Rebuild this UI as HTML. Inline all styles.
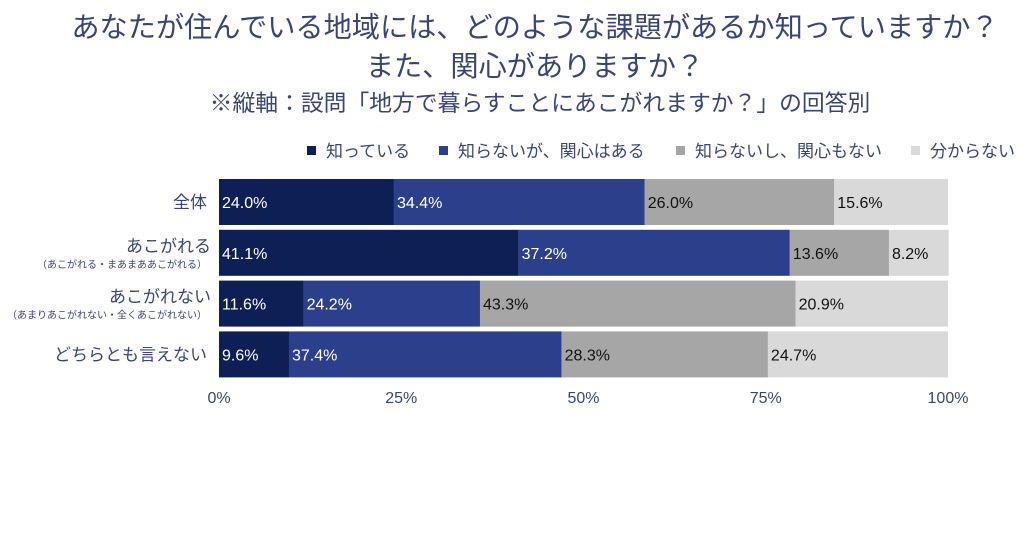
<!DOCTYPE html>
<html><head><meta charset="utf-8"><style>
body{margin:0;width:1024px;height:536px;background:#fff;overflow:hidden;font-family:"Liberation Sans","Noto Sans CJK JP",sans-serif;}
.t{position:absolute;left:0;width:1024px;text-align:center;color:#3a4577;}
</style></head><body>
<div class="t" style="top:5px;font-size:28.2px;left:23px;">あなたが住んでいる地域には、どのような課題があるか知っていますか？</div>
<div class="t" style="top:44px;font-size:28.2px;left:23px;">また、関心がありますか？</div>
<div class="t" style="top:85px;font-size:22.8px;left:28px;">※縦軸：設問「地方で暮らすことにあこがれますか？」の回答別</div>
<svg id="c" width="1024" height="536" style="position:absolute;left:0;top:0"></svg>
<script>
const categories=["全体","あこがれる","あこがれない","どちらとも言えない"];
const subLabels=["","（あこがれる・まあまああこがれる）","（あまりあこがれない・全くあこがれない）",""];
const seriesNames=["知っている","知らないが、関心はある","知らないし、関心もない","分からない"];
const s1=[24.0,41.1,11.6,9.6];
const s2=[34.4,37.2,24.2,37.4];
const s3=[26.0,13.6,43.3,28.3];
const s4=[15.6,8.2,20.9,24.7];
const ticks=[0,25,50,75,100];
const colors=["#0e1f56","#2c3f8b","#a6a6a6","#d9d9d9"];
const textColors=["#fff","#fff","#111","#111"];
const svg=document.getElementById('c');const NS="http://www.w3.org/2000/svg";
const x0=219,x1=948;const X=v=>x0+(x1-x0)*v/100;
const rowTop=i=>179+i*50.8;const bh=46;
function mk(t,a){const e=document.createElementNS(NS,t);for(const k in a)e.setAttribute(k,a[k]);svg.appendChild(e);return e;}
const series=[s1,s2,s3,s4];
categories.forEach((c,i)=>{
  let acc=0;const y=rowTop(i);
  series.forEach((s,j)=>{
    const r=mk('rect',{x:X(acc),y:y,width:X(acc+s[i])-X(acc),height:bh,fill:colors[j]});
    
    
    const t=mk('text',{x:X(acc)+3,y:y+bh/2+6,fill:textColors[j],'font-size':16});
    t.textContent=s[i].toFixed(1)+'%';
    
    
    acc+=s[i];
  });
  const hasSub=subLabels[i]!=="";
  const l=mk('text',{x:hasSub?211:207,y:y+(hasSub?22:29),'text-anchor':'end',fill:'#3a4577','font-size':17});
  l.textContent=c;
  
  
  if(hasSub){const sl=mk('text',{x:207,y:y+38,'text-anchor':'end',fill:'#3a4577','font-size':10});
    sl.textContent=subLabels[i];
    
    }
});
ticks.forEach(v=>{
  const t=mk('text',{x:X(v),y:403,'text-anchor':'middle',fill:'#3a4577','font-size':16});
  t.textContent=v+'%';
  
  
});
const lx=[307,439,676,911];
seriesNames.forEach((n,j)=>{
  const r=mk('rect',{x:lx[j],y:146,width:9,height:9,fill:colors[j]});
  
  
  const t=mk('text',{x:lx[j]+19,y:157,fill:'#3a4577','font-size':17});
  t.textContent=n;
  
  
});
</script>
</body></html>
